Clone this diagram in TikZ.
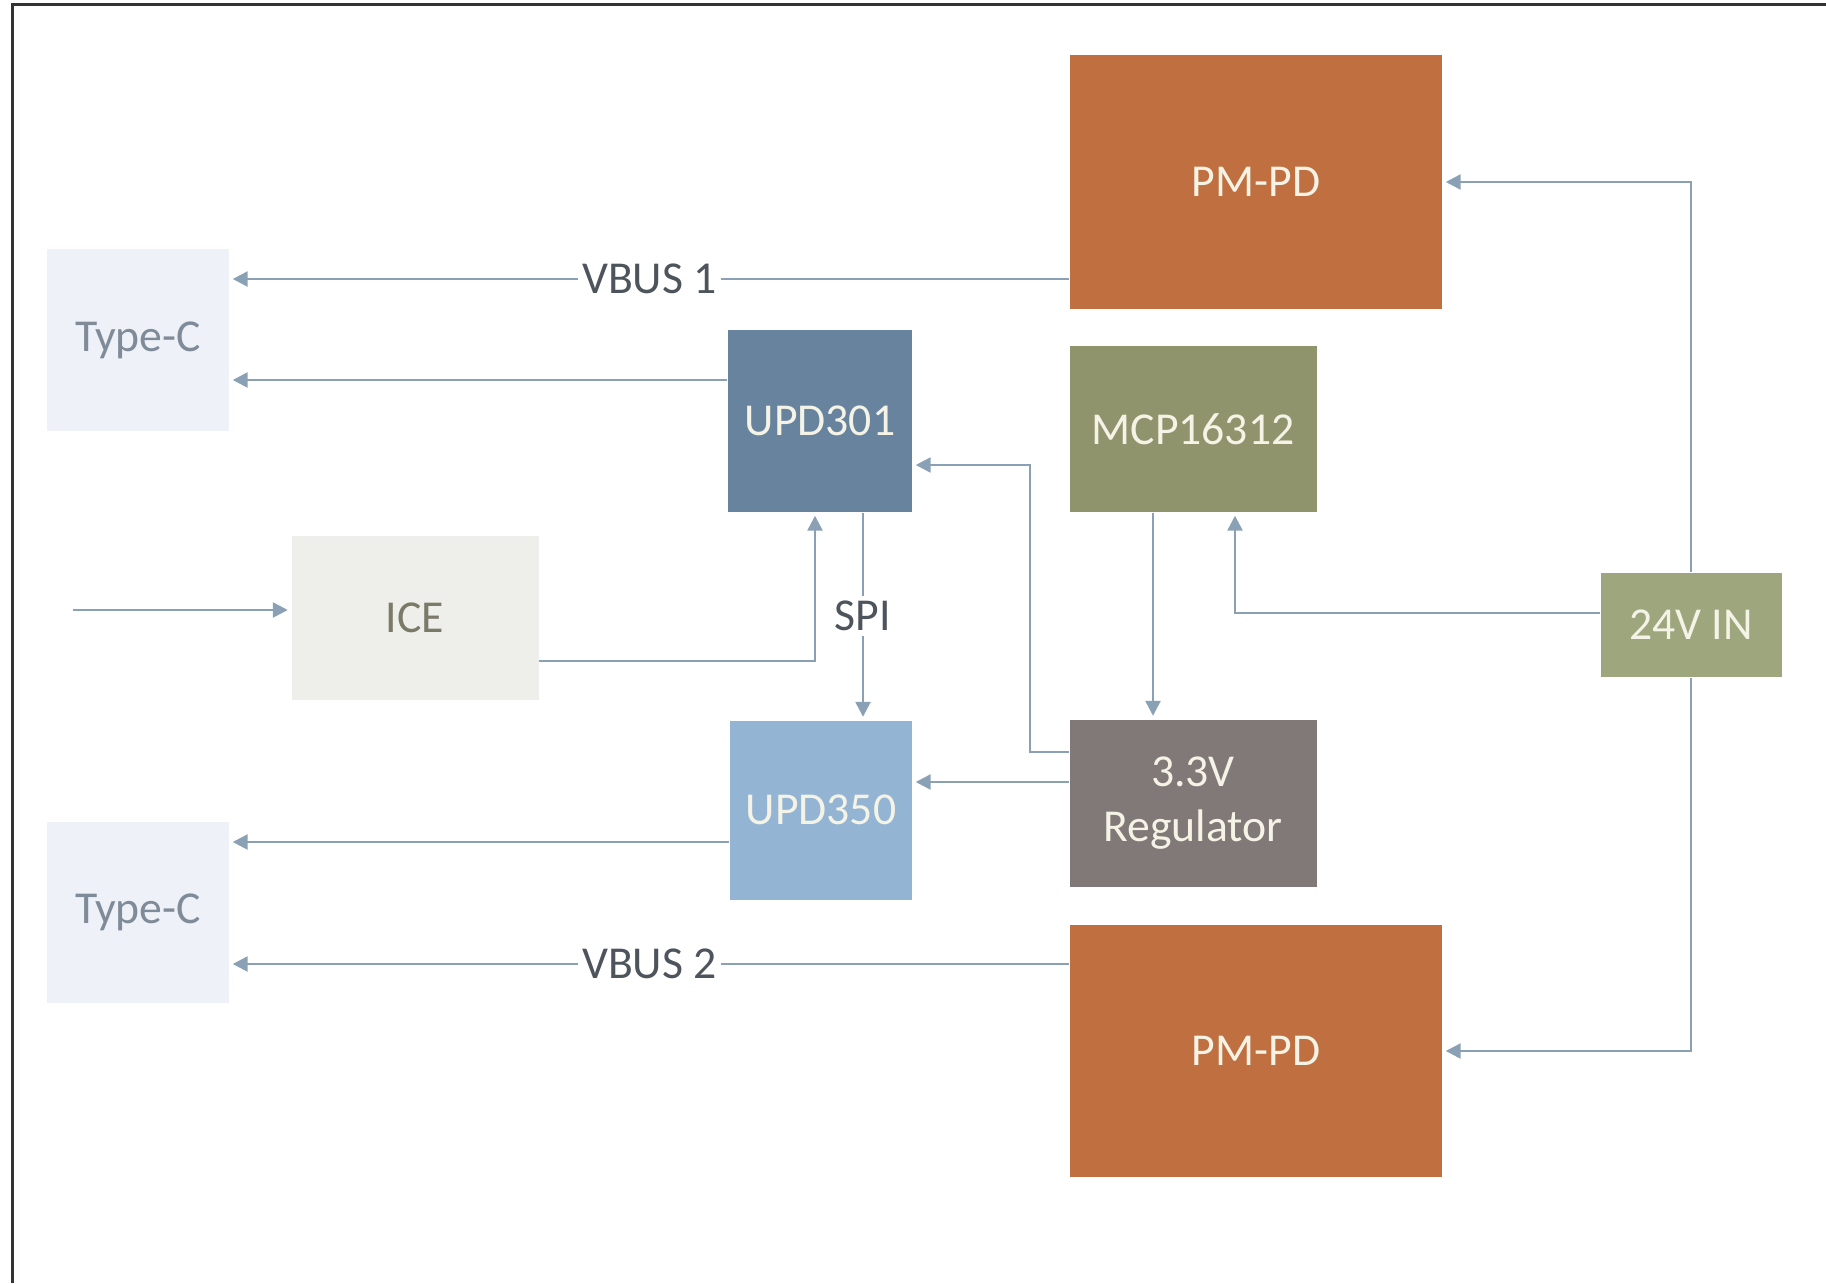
\documentclass[tikz,border=0pt]{standalone}
\usepackage{fontspec}
\setmainfont{Carlito}
\usepackage{xcolor}
\usepackage{tikz}
\usetikzlibrary{positioning,arrows.meta}
\definecolor{wirec}{HTML}{8AA1B5}
\definecolor{pmpdc}{HTML}{C07040}
\definecolor{typec}{HTML}{EEF1F7}
\definecolor{typetxt}{HTML}{7F8B99}
\definecolor{updone}{HTML}{68839E}
\definecolor{updtwo}{HTML}{93B4D2}
\definecolor{mcpc}{HTML}{8F946D}
\definecolor{vinc}{HTML}{9DA67C}
\definecolor{icec}{HTML}{EEEEEA}
\definecolor{icetxt}{HTML}{7B7A68}
\definecolor{regc}{HTML}{817878}
\definecolor{boxtxt}{HTML}{F4F3E6}
\definecolor{lbltxt}{HTML}{4E545C}

\begin{document}
\begin{tikzpicture}[x=0.1mm,y=-0.1mm,font=\fontsize{13}{15.5}\selectfont,
  blk/.style={inner sep=0pt,align=center,text=boxtxt},
  wire/.style={draw=wirec,line width=0.25mm,-{Triangle[length=1.5mm,width=1.5mm]},shorten >=0.3mm},
  lbl/.style={fill=white,inner xsep=0.4mm,inner ysep=0pt,text=lbltxt}]
\useasboundingbox (0,0) rectangle (1826,1283);
\draw[line width=0.3mm,black!80] (12,1283) -- (12,4) -- (1826,4);

\node[blk,fill=pmpdc,minimum width=37.2mm,minimum height=25.4mm] (pmtop) at (1256,182) {PM-PD};
\node[blk,fill=pmpdc,minimum width=37.2mm,minimum height=25.2mm] (pmbot) at (1256,1051) {PM-PD};
\node[blk,fill=typec,text=typetxt,minimum width=18.2mm,minimum height=18.2mm] (typeA) at (138,340) {Type-C};
\node[blk,fill=typec,text=typetxt,minimum width=18.2mm,minimum height=18.1mm] (typeB) at (138,912) {Type-C};
\node[blk,fill=updone,minimum width=18.4mm,minimum height=18.2mm] (upd301) at (820,421) {UPD301};
\node[blk,fill=updtwo,minimum width=18.2mm,minimum height=17.9mm] (upd350) at (821,810) {UPD350};
\node[blk,fill=mcpc,minimum width=24.7mm,minimum height=16.6mm] (mcp) at (1193,429) {MCP16312};
\node[blk,fill=regc,minimum width=24.7mm,minimum height=16.7mm] (reg) at (1193,803) {3.3V\\Regulator};
\node[blk,fill=icec,text=icetxt,minimum width=24.7mm,minimum height=16.4mm] (ice) at (415,618) {ICE};
\node[blk,fill=vinc,minimum width=18.1mm,minimum height=10.4mm] (vin) at (1691,625) {24V IN};

\coordinate (v1) at ([yshift=-9.7mm]pmtop.west);
\coordinate (v2) at ([yshift=8.7mm]pmbot.west);
\coordinate (u1) at ([yshift=4.1mm]upd301.west);
\coordinate (u2) at ([yshift=-3.2mm]upd350.west);
\coordinate (r1) at ([yshift=5.1mm]reg.west);
\coordinate (r2) at ([yshift=2.1mm]reg.west);
\coordinate (spi) at ([xshift=4.3mm]upd301.south);
\coordinate (src) at (73,610);

\draw[wire] (v1) -- (v1 -| typeA.east) node[lbl,midway] {VBUS 1};
\draw[wire] (v2) -- (v2 -| typeB.east) node[lbl,midway] {VBUS 2};
\draw[wire] (u1) -- (u1 -| typeA.east);
\draw[wire] (u2) -- (u2 -| typeB.east);
\draw[wire] (vin.north) |- (pmtop.east);
\draw[wire] (vin.south) |- (pmbot.east);
\draw[wire] ([yshift=1.2mm]vin.west) -| ([xshift=4.2mm]mcp.south);
\draw[wire] ([xshift=-4mm]mcp.south) -- ([xshift=-4mm]reg.north);
\draw[wire] (r1) -- ++(-39,0) |- ([yshift=-4.4mm]upd301.east);
\draw[wire] (r2) -- (r2 -| upd350.east);
\draw[wire] (spi) -- (spi |- upd350.north) node[lbl,midway,inner xsep=0pt,inner ysep=0.5mm] {SPI};
\draw[wire] ([yshift=-4.3mm]ice.east) -| ([xshift=-0.5mm]upd301.south);
\draw[wire] (src) -- (src -| ice.west);
\end{tikzpicture}
\end{document}
